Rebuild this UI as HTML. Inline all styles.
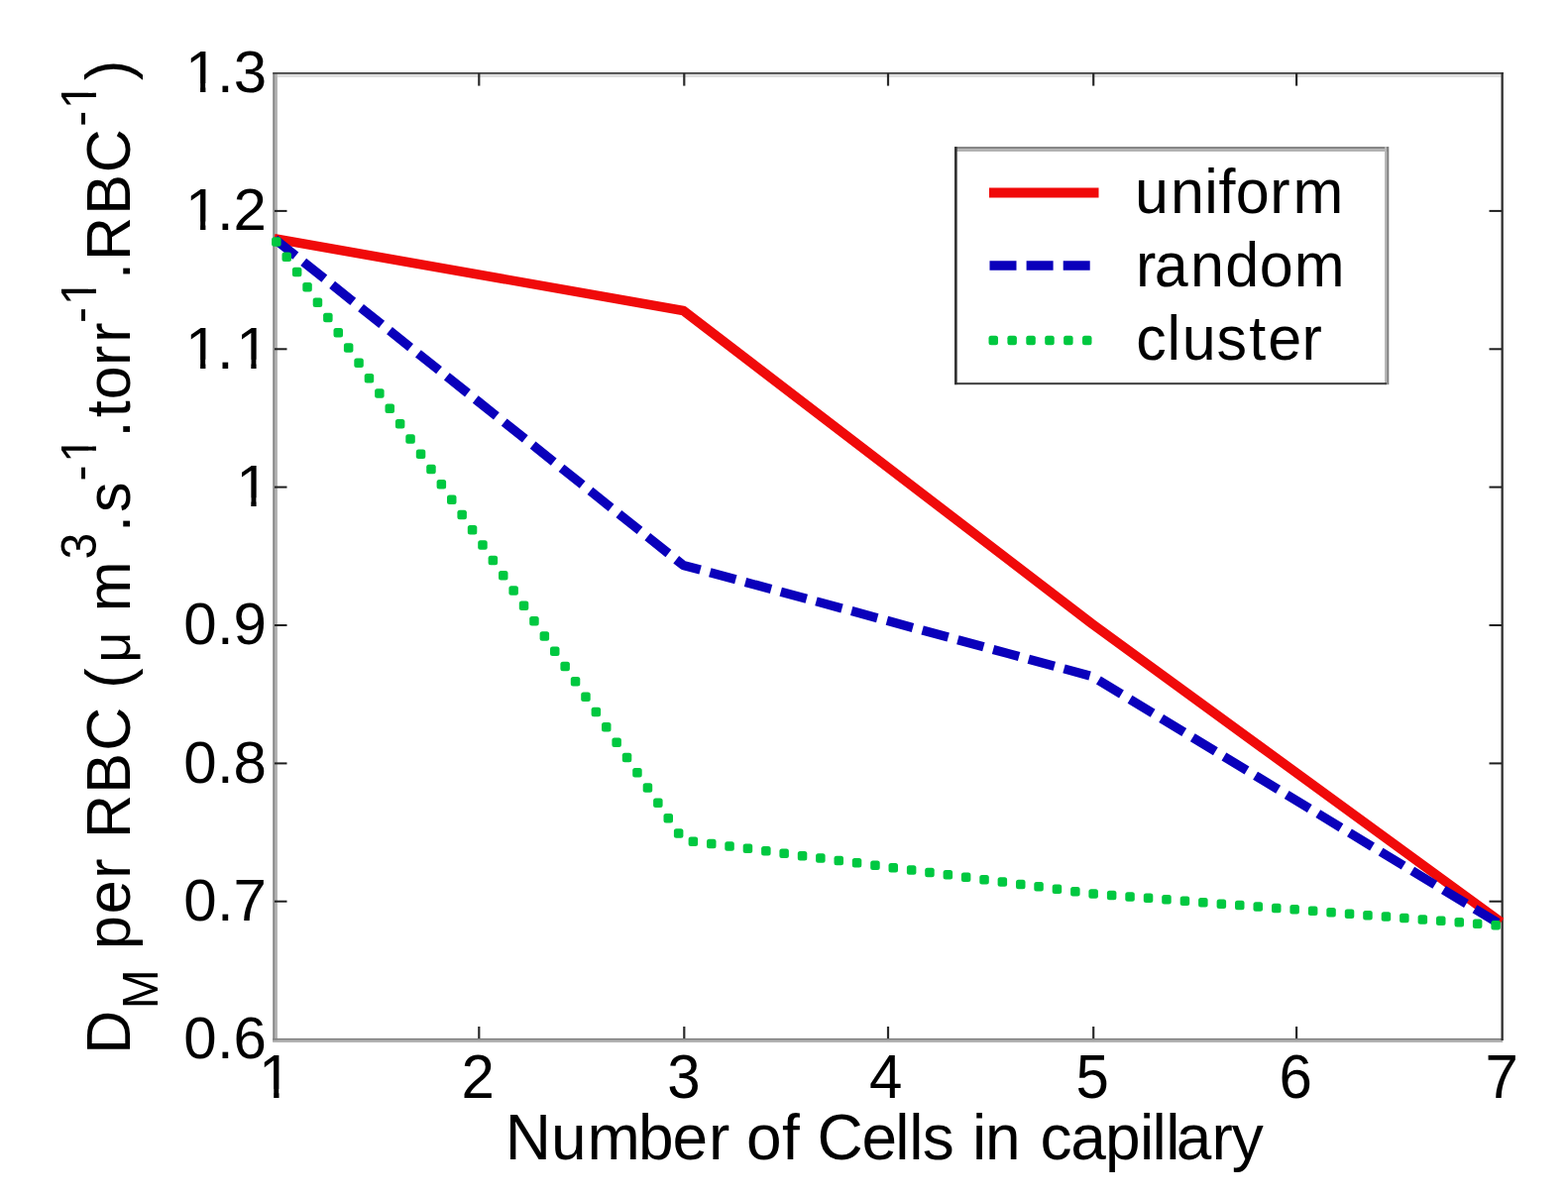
<!DOCTYPE html>
<html><head><meta charset="utf-8"><title>DM per RBC vs Number of Cells</title>
<style>
html,body{margin:0;padding:0;background:#fff;}
svg{display:block;}
text{font-family:"Liberation Sans", Arial, Helvetica, sans-serif;fill:#000;white-space:pre;}
</style></head><body>
<svg width="1582" height="1208" viewBox="0 0 1582 1208">
<rect x="0" y="0" width="1582" height="1208" fill="#fff"/>
<g>
<rect x="275.2" y="73.5" width="2.5" height="978" fill="#888"/>
<rect x="277.7" y="73.5" width="2.2" height="978" fill="#b0b0b0"/>
<rect x="279.9" y="74.8" width="1234.6" height="3.2" fill="#dedede"/>
<rect x="275.2" y="1047.9" width="1241" height="1.9" fill="#7f7f7f"/>
<rect x="275.2" y="1049.8" width="1241" height="2.2" fill="#b2b2b2"/>
<rect x="275.2" y="73" width="1241.5" height="1.8" fill="#444"/>
<rect x="1514.5" y="73" width="2.3" height="977" fill="#2e2e2e"/>
<g stroke="#1e1e1e" stroke-width="2"><line x1="277" y1="909.7" x2="289.5" y2="909.7"/><line x1="1502.5" y1="909.7" x2="1515" y2="909.7"/><line x1="277" y1="770.4" x2="289.5" y2="770.4"/><line x1="1502.5" y1="770.4" x2="1515" y2="770.4"/><line x1="277" y1="631.0" x2="289.5" y2="631.0"/><line x1="1502.5" y1="631.0" x2="1515" y2="631.0"/><line x1="277" y1="491.6" x2="289.5" y2="491.6"/><line x1="1502.5" y1="491.6" x2="1515" y2="491.6"/><line x1="277" y1="352.3" x2="289.5" y2="352.3"/><line x1="1502.5" y1="352.3" x2="1515" y2="352.3"/><line x1="277" y1="212.9" x2="289.5" y2="212.9"/><line x1="1502.5" y1="212.9" x2="1515" y2="212.9"/></g>
<g stroke="#2a2a2a" stroke-width="2.2"><line x1="483.3" y1="1048" x2="483.3" y2="1036"/><line x1="483.3" y1="74" x2="483.3" y2="86.6"/><line x1="690.3" y1="1048" x2="690.3" y2="1036"/><line x1="690.3" y1="74" x2="690.3" y2="86.6"/><line x1="896.0" y1="1048" x2="896.0" y2="1036"/><line x1="896.0" y1="74" x2="896.0" y2="86.6"/><line x1="1103.2" y1="1048" x2="1103.2" y2="1036"/><line x1="1103.2" y1="74" x2="1103.2" y2="86.6"/><line x1="1308.1" y1="1048" x2="1308.1" y2="1036"/><line x1="1308.1" y1="74" x2="1308.1" y2="86.6"/></g>
<polyline points="276.7,240.8 689.3,313.4 1101.9,629.6 1514.5,930.6" fill="none" stroke="#f00a0a" stroke-width="9.6" stroke-linejoin="round"/>
<polyline points="276.7,240.8 689.3,570.4 1101.9,682.6 1514.5,933.4" fill="none" stroke="#0a00bb" stroke-width="9.3" stroke-linejoin="round" stroke-dasharray="27 10.02" stroke-dashoffset="-0.75"/>
<g fill="#00c840"><rect x="274.1" y="239.2" width="9.5" height="9.5" rx="2.5"/><rect x="284.5" y="254.5" width="9.5" height="9.5" rx="2.5"/><rect x="294.9" y="269.8" width="9.5" height="9.5" rx="2.5"/><rect x="305.3" y="285.1" width="9.5" height="9.5" rx="2.5"/><rect x="315.7" y="300.4" width="9.5" height="9.5" rx="2.5"/><rect x="326.1" y="315.7" width="9.5" height="9.5" rx="2.5"/><rect x="336.5" y="331.0" width="9.5" height="9.5" rx="2.5"/><rect x="346.9" y="346.3" width="9.5" height="9.5" rx="2.5"/><rect x="357.3" y="361.6" width="9.5" height="9.5" rx="2.5"/><rect x="367.7" y="376.9" width="9.5" height="9.5" rx="2.5"/><rect x="378.1" y="392.3" width="9.5" height="9.5" rx="2.5"/><rect x="388.5" y="407.6" width="9.5" height="9.5" rx="2.5"/><rect x="398.9" y="422.9" width="9.5" height="9.5" rx="2.5"/><rect x="409.3" y="438.2" width="9.5" height="9.5" rx="2.5"/><rect x="419.8" y="453.5" width="9.5" height="9.5" rx="2.5"/><rect x="430.2" y="468.8" width="9.5" height="9.5" rx="2.5"/><rect x="440.6" y="484.1" width="9.5" height="9.5" rx="2.5"/><rect x="451.0" y="499.4" width="9.5" height="9.5" rx="2.5"/><rect x="461.4" y="514.7" width="9.5" height="9.5" rx="2.5"/><rect x="471.8" y="530.0" width="9.5" height="9.5" rx="2.5"/><rect x="482.2" y="545.3" width="9.5" height="9.5" rx="2.5"/><rect x="492.6" y="560.7" width="9.5" height="9.5" rx="2.5"/><rect x="503.0" y="576.0" width="9.5" height="9.5" rx="2.5"/><rect x="513.4" y="591.3" width="9.5" height="9.5" rx="2.5"/><rect x="523.8" y="606.6" width="9.5" height="9.5" rx="2.5"/><rect x="534.2" y="621.9" width="9.5" height="9.5" rx="2.5"/><rect x="544.6" y="637.2" width="9.5" height="9.5" rx="2.5"/><rect x="555.0" y="652.5" width="9.5" height="9.5" rx="2.5"/><rect x="565.4" y="667.8" width="9.5" height="9.5" rx="2.5"/><rect x="575.8" y="683.1" width="9.5" height="9.5" rx="2.5"/><rect x="586.2" y="698.4" width="9.5" height="9.5" rx="2.5"/><rect x="596.6" y="713.7" width="9.5" height="9.5" rx="2.5"/><rect x="607.0" y="729.1" width="9.5" height="9.5" rx="2.5"/><rect x="617.4" y="744.4" width="9.5" height="9.5" rx="2.5"/><rect x="627.8" y="759.7" width="9.5" height="9.5" rx="2.5"/><rect x="638.2" y="775.0" width="9.5" height="9.5" rx="2.5"/><rect x="648.7" y="790.3" width="9.5" height="9.5" rx="2.5"/><rect x="659.1" y="805.6" width="9.5" height="9.5" rx="2.5"/><rect x="669.5" y="820.9" width="9.5" height="9.5" rx="2.5"/><rect x="679.9" y="836.2" width="9.5" height="9.5" rx="2.5"/><rect x="694.6" y="844.4" width="9.5" height="9.5" rx="2.5"/><rect x="713.0" y="846.8" width="9.5" height="9.5" rx="2.5"/><rect x="731.3" y="849.2" width="9.5" height="9.5" rx="2.5"/><rect x="749.7" y="851.6" width="9.5" height="9.5" rx="2.5"/><rect x="768.1" y="854.0" width="9.5" height="9.5" rx="2.5"/><rect x="786.4" y="856.5" width="9.5" height="9.5" rx="2.5"/><rect x="804.8" y="858.9" width="9.5" height="9.5" rx="2.5"/><rect x="823.1" y="861.3" width="9.5" height="9.5" rx="2.5"/><rect x="841.5" y="863.7" width="9.5" height="9.5" rx="2.5"/><rect x="859.8" y="866.1" width="9.5" height="9.5" rx="2.5"/><rect x="878.2" y="868.5" width="9.5" height="9.5" rx="2.5"/><rect x="896.5" y="870.9" width="9.5" height="9.5" rx="2.5"/><rect x="914.9" y="873.3" width="9.5" height="9.5" rx="2.5"/><rect x="933.2" y="875.7" width="9.5" height="9.5" rx="2.5"/><rect x="951.6" y="878.1" width="9.5" height="9.5" rx="2.5"/><rect x="969.9" y="880.5" width="9.5" height="9.5" rx="2.5"/><rect x="988.3" y="882.9" width="9.5" height="9.5" rx="2.5"/><rect x="1006.6" y="885.3" width="9.5" height="9.5" rx="2.5"/><rect x="1025.0" y="887.7" width="9.5" height="9.5" rx="2.5"/><rect x="1043.3" y="890.1" width="9.5" height="9.5" rx="2.5"/><rect x="1061.7" y="892.5" width="9.5" height="9.5" rx="2.5"/><rect x="1080.1" y="894.9" width="9.5" height="9.5" rx="2.5"/><rect x="1098.4" y="897.3" width="9.5" height="9.5" rx="2.5"/><rect x="1116.9" y="898.7" width="9.5" height="9.5" rx="2.5"/><rect x="1135.3" y="900.2" width="9.5" height="9.5" rx="2.5"/><rect x="1153.8" y="901.6" width="9.5" height="9.5" rx="2.5"/><rect x="1172.2" y="903.0" width="9.5" height="9.5" rx="2.5"/><rect x="1190.7" y="904.5" width="9.5" height="9.5" rx="2.5"/><rect x="1209.1" y="905.9" width="9.5" height="9.5" rx="2.5"/><rect x="1227.6" y="907.4" width="9.5" height="9.5" rx="2.5"/><rect x="1246.0" y="908.8" width="9.5" height="9.5" rx="2.5"/><rect x="1264.5" y="910.2" width="9.5" height="9.5" rx="2.5"/><rect x="1283.0" y="911.7" width="9.5" height="9.5" rx="2.5"/><rect x="1301.4" y="913.1" width="9.5" height="9.5" rx="2.5"/><rect x="1319.9" y="914.6" width="9.5" height="9.5" rx="2.5"/><rect x="1338.3" y="916.0" width="9.5" height="9.5" rx="2.5"/><rect x="1356.8" y="917.4" width="9.5" height="9.5" rx="2.5"/><rect x="1375.2" y="918.9" width="9.5" height="9.5" rx="2.5"/><rect x="1393.7" y="920.3" width="9.5" height="9.5" rx="2.5"/><rect x="1412.1" y="921.8" width="9.5" height="9.5" rx="2.5"/><rect x="1430.6" y="923.2" width="9.5" height="9.5" rx="2.5"/><rect x="1449.0" y="924.6" width="9.5" height="9.5" rx="2.5"/><rect x="1467.5" y="926.1" width="9.5" height="9.5" rx="2.5"/><rect x="1485.9" y="927.5" width="9.5" height="9.5" rx="2.5"/><rect x="1504.4" y="929.0" width="9.5" height="9.5" rx="2.5"/></g>
<text transform="translate(0,1068.44)" x="185.3 219.0 235.4" y="0" font-size="60">0.6</text>
<text transform="translate(0,929.07)" x="185.3 219.0 235.6" y="0" font-size="60">0.7</text>
<text transform="translate(0,789.71)" x="185.3 219.0 235.6" y="0" font-size="60">0.8</text>
<text transform="translate(0,650.34)" x="185.3 219.0 235.6" y="0" font-size="60">0.9</text>
<text transform="translate(0,510.97)" x="238.2" y="0" font-size="60" clip-path="url(#c0)">1</text>
<text transform="translate(0,371.60)" x="187.0 219.0 238.2" y="0" font-size="60" clip-path="url(#c1)">1.1</text>
<text transform="translate(0,232.24)" x="187.0 219.0 235.6" y="0" font-size="60" clip-path="url(#c2)">1.2</text>
<text transform="translate(0,92.87)" x="187.0 219.0 235.8" y="0" font-size="60" clip-path="url(#c3)">1.3</text>
<text transform="translate(0,1108.20) scale(1,1.04)" x="261.1" y="0" font-size="60" clip-path="url(#c4)">1</text>
<text transform="translate(0,1108.20) scale(1,1.04)" x="465.4" y="0" font-size="60">2</text>
<text transform="translate(0,1108.20) scale(1,1.04)" x="673.3" y="0" font-size="60">3</text>
<text transform="translate(0,1108.20) scale(1,1.04)" x="877.1" y="0" font-size="60">4</text>
<text transform="translate(0,1108.20) scale(1,1.04)" x="1085.4" y="0" font-size="60">5</text>
<text transform="translate(0,1108.20) scale(1,1.04)" x="1290.6" y="0" font-size="60">6</text>
<text transform="translate(0,1108.20) scale(1,1.04)" x="1498.5" y="0" font-size="60">7</text>
<g><text transform="translate(0,1169.60) scale(1,1.01)" x="509.7 556.1 592.4 643.9 678.5 714.9 736.2 753.0 789.1 806.9 824.5 869.6 903.3 917.2 930.7 962.7 980.9 994.1 1029.7 1049.5 1080.3 1115.1 1149.9 1162.6 1176.3 1186.7 1222.5 1242.7" y="0" font-size="64">Number of Cells in capillary</text>
</g>
<g transform="translate(130.8,0) scale(1.035,1)"><text transform="rotate(-90)" clip-path="url(#c5)"><tspan x="-1063.8" y="0.0" font-size="61">D</tspan><tspan x="-1018.3" y="27.7" font-size="48">M</tspan><tspan x="-978.4" y="0.0" font-size="61"> </tspan><tspan x="-958.0" y="0.0" font-size="61">p</tspan><tspan x="-922.2" y="0.0" font-size="61">e</tspan><tspan x="-886.8" y="0.0" font-size="61">r</tspan><tspan x="-866.5" y="0.0" font-size="61"> </tspan><tspan x="-846.0" y="0.0" font-size="61">R</tspan><tspan x="-800.7" y="0.0" font-size="61">B</tspan><tspan x="-757.8" y="0.0" font-size="61">C</tspan><tspan x="-713.8" y="0.0" font-size="61"> </tspan><tspan x="-694.8" y="0.0" font-size="61">(</tspan><tspan x="-668.8" y="0.0" font-size="54">&#956;</tspan><tspan x="-637.7" y="0.0" font-size="61"> </tspan><tspan x="-617.3" y="0.0" font-size="61">m</tspan><tspan x="-564.6" y="-33.1" font-size="48">3</tspan><tspan x="-536.9" y="0.0" font-size="61">.</tspan><tspan x="-517.0" y="0.0" font-size="61">s</tspan><tspan x="-485.6" y="-33.1" font-size="48">-</tspan><tspan x="-466.7" y="-33.1" font-size="48">1</tspan><tspan x="-441.5" y="0.0" font-size="61">.</tspan><tspan x="-421.3" y="0.0" font-size="61">t</tspan><tspan x="-403.2" y="0.0" font-size="61">o</tspan><tspan x="-368.9" y="0.0" font-size="61">r</tspan><tspan x="-345.7" y="0.0" font-size="61">r</tspan><tspan x="-325.9" y="-33.1" font-size="48">-</tspan><tspan x="-308.1" y="-33.1" font-size="48">1</tspan><tspan x="-281.9" y="0.0" font-size="61">.</tspan><tspan x="-263.1" y="0.0" font-size="61">R</tspan><tspan x="-216.8" y="0.0" font-size="61">B</tspan><tspan x="-174.2" y="0.0" font-size="61">C</tspan><tspan x="-127.8" y="-33.1" font-size="48">-</tspan><tspan x="-110.1" y="-33.1" font-size="48">1</tspan><tspan x="-81.1" y="0.0" font-size="61">)</tspan></text></g>
<rect x="964" y="150" width="436" height="237" fill="#fff"/>
<rect x="963" y="148.1" width="438" height="2.4" fill="#808080"/>
<rect x="963" y="150.5" width="438" height="2.4" fill="#b0b0b0"/>
<rect x="1397" y="148.1" width="2.2" height="240" fill="#b8b8b8"/>
<rect x="1399.2" y="148.1" width="2.1" height="240" fill="#808080"/>
<rect x="963" y="386.1" width="436" height="2.1" fill="#444"/>
<rect x="963" y="148.1" width="2.7" height="240" fill="#333"/>
<line x1="998" y1="194.4" x2="1108.5" y2="194.4" stroke="#f00a0a" stroke-width="10"/>
<line x1="998.5" y1="268" x2="1100.2" y2="268" stroke="#0a00bb" stroke-width="9.5" stroke-dasharray="27 10.1"/>
<g fill="#00c840"><rect x="997.5" y="338.75" width="9.5" height="9.5" rx="2.5"/><rect x="1016.4" y="338.75" width="9.5" height="9.5" rx="2.5"/><rect x="1035.3" y="338.75" width="9.5" height="9.5" rx="2.5"/><rect x="1054.2" y="338.75" width="9.5" height="9.5" rx="2.5"/><rect x="1073.1" y="338.75" width="9.5" height="9.5" rx="2.5"/><rect x="1092.0" y="338.75" width="9.5" height="9.5" rx="2.5"/></g>
<text transform="translate(0,215.20) scale(1,1.02)" x="1145.0 1181.0 1215.2 1229.4 1246.8 1281.3 1304.4" y="0" font-size="61">uniform</text>
<text transform="translate(0,288.80) scale(1,1.02)" x="1146.0 1164.8 1200.9 1236.3 1270.7 1305.8" y="0" font-size="61">random</text>
<text transform="translate(0,362.50) scale(1,1.02)" x="1146.2 1177.4 1192.7 1227.6 1260.3 1279.3 1313.6" y="0" font-size="61">cluster</text>
</g>
<defs><clipPath id="c0" clipPathUnits="userSpaceOnUse"><path clip-rule="evenodd" d="M-4000,-4000H4000V4000H-4000ZM240.55,-8.79H253.30V1.76H240.55ZM258.60,-8.79H271.02V1.76H258.60Z"/></clipPath><clipPath id="c1" clipPathUnits="userSpaceOnUse"><path clip-rule="evenodd" d="M-4000,-4000H4000V4000H-4000ZM189.35,-8.79H202.10V1.76H189.35ZM207.40,-8.79H219.82V1.76H207.40ZM240.55,-8.79H253.30V1.76H240.55ZM258.60,-8.79H271.02V1.76H258.60Z"/></clipPath><clipPath id="c2" clipPathUnits="userSpaceOnUse"><path clip-rule="evenodd" d="M-4000,-4000H4000V4000H-4000ZM189.35,-8.79H202.10V1.76H189.35ZM207.40,-8.79H219.82V1.76H207.40Z"/></clipPath><clipPath id="c3" clipPathUnits="userSpaceOnUse"><path clip-rule="evenodd" d="M-4000,-4000H4000V4000H-4000ZM189.35,-8.79H202.10V1.76H189.35ZM207.40,-8.79H219.82V1.76H207.40Z"/></clipPath><clipPath id="c4" clipPathUnits="userSpaceOnUse"><path clip-rule="evenodd" d="M-4000,-4000H4000V4000H-4000ZM263.45,-8.79H276.20V1.76H263.45ZM281.50,-8.79H293.92V1.76H281.50Z"/></clipPath><clipPath id="c5" clipPathUnits="userSpaceOnUse"><path clip-rule="evenodd" d="M-4000,-4000H4000V4000H-4000ZM-464.84,-40.17H-454.64V-31.73H-464.84ZM-450.40,-40.17H-440.46V-31.73H-450.40ZM-306.24,-40.17H-296.04V-31.73H-306.24ZM-291.80,-40.17H-281.86V-31.73H-291.80ZM-108.24,-40.17H-98.04V-31.73H-108.24ZM-93.80,-40.17H-83.86V-31.73H-93.80Z"/></clipPath></defs>
</svg>
</body></html>
